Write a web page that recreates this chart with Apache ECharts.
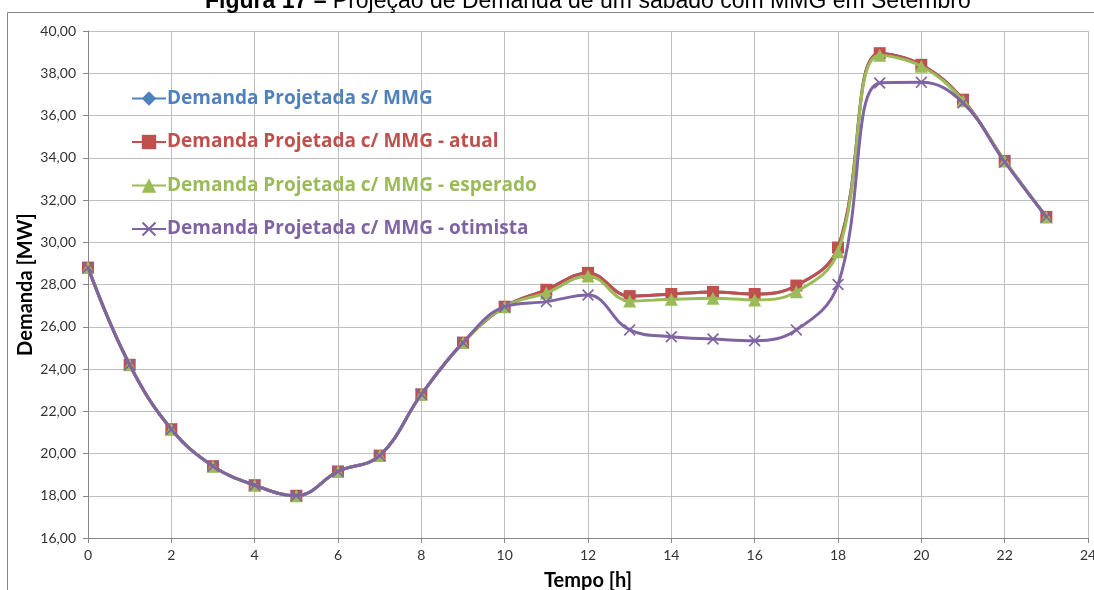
<!DOCTYPE html>
<html><head><meta charset="utf-8">
<script src="https://cdn.jsdelivr.net/npm/echarts@6/dist/echarts.min.js"></script>
<style>html,body{margin:0;padding:0;background:#fff}#c{width:1094px;height:590px}</style>
</head><body><div id="c"></div>
<script>
const hours = [0,1,2,3,4,5,6,7,8,9,10,11,12,13,14,15,16,17,18,19,20,21,22,23];
const semMMG   = [28.8,24.2,21.15,19.4,18.5,18.0,19.15,19.9,22.8,25.25,26.95,27.75,28.55,27.45,27.55,27.65,27.55,27.95,29.75,38.95,38.4,36.75,33.85,31.2];
const atual    = [28.8,24.2,21.15,19.4,18.5,18.0,19.15,19.9,22.8,25.25,26.95,27.75,28.55,27.45,27.55,27.65,27.55,27.95,29.75,38.95,38.4,36.75,33.85,31.2];
const esperado = [28.8,24.2,21.15,19.4,18.5,18.0,19.15,19.9,22.8,25.25,26.95,27.6,28.4,27.22,27.3,27.35,27.27,27.66,29.55,38.85,38.33,36.7,33.85,31.2];
const otimista = [28.8,24.2,21.15,19.4,18.5,18.0,19.15,19.9,22.8,25.25,26.95,27.19,27.5,25.85,25.53,25.42,25.34,25.85,28.0,37.54,37.57,36.6,33.8,31.2];
const seriesNames = ['Demanda Projetada s/ MMG','Demanda Projetada c/ MMG - atual','Demanda Projetada c/ MMG - esperado','Demanda Projetada c/ MMG - otimista'];
const colors = ['#4F81BD','#C0504D','#9BBB59','#8064A2'];
const yTicks = [16,18,20,22,24,26,28,30,32,34,36,38,40];
const xTicks = [0,2,4,6,8,10,12,14,16,18,20,22,24];

const pair = arr => hours.map((h,i)=>[h,arr[i]]);
const xShape = 'path://M0,1L1,0L5,4L9,0L10,1L6,5L10,9L9,10L5,6L1,10L0,9L4,5Z';
const font = 'Lato, "Open Sans", sans-serif';

const chart = echarts.init(document.getElementById('c'), null, {renderer:'canvas'});
const mk = (i, data, symbol, size) => ({
  name: seriesNames[i], type:'line', data: pair(data), smooth:0.4,
  symbol, symbolSize:size, showSymbol:true,
  lineStyle:{color:colors[i], width:3},
  itemStyle:{color:colors[i]},
  z: 2+i, animation:false
});
chart.setOption({
  animation:false,
  color: colors,
  title:{
    text:'{b|Figura 17 –} Projeção de Demanda de um sábado com MMG em Setembro',
    left:200, top:-15,
    textStyle:{fontFamily:'"Liberation Sans", Arial, sans-serif', fontSize:23, fontWeight:'normal', color:'#000',
      rich:{b:{fontFamily:'"Liberation Sans", Arial, sans-serif', fontSize:23, fontWeight:'bold', color:'#000'}}}
  },
  graphic:[{type:'rect', shape:{x:7.5,y:12.5,width:1200,height:700}, style:{fill:'none', stroke:'#868686', lineWidth:1}, z:-1}],
  grid:{left:88, right:6, top:31, bottom:52, outerBoundsMode:'none', containLabel:false},
  legend:{
    orient:'vertical', left:126, top:84, itemGap:24.5, itemWidth:34, itemHeight:18,
    data: seriesNames.map((n,i)=>({name:n, textStyle:{color:colors[i]}})),
    textStyle:{fontFamily:'"Open Sans", sans-serif', fontSize:19, fontWeight:'bold', padding:[0,0,0,-4]}
  },
  xAxis:{
    type:'value', min:0, max:24, interval:2,
    name:'Tempo [h]', nameLocation:'middle', nameGap:33, nameMoveOverlap:false,
    nameTextStyle:{fontFamily:font, fontSize:20, fontWeight:'bold', color:'#000'},
    axisLine:{lineStyle:{color:'#868686'}},
    axisTick:{show:true, length:5, lineStyle:{color:'#868686'}},
    axisLabel:{fontFamily:font, fontSize:14, color:'#333', margin:10,
      formatter: v => xTicks.includes(v) ? String(v) : ''},
    splitLine:{show:true, lineStyle:{color:'#BFBFBF'}}
  },
  yAxis:{
    type:'value', min:16, max:40, interval:2,
    name:'Demanda [MW]', nameLocation:'middle', nameGap:52, nameMoveOverlap:false,
    nameTextStyle:{fontFamily:font, fontSize:20, fontWeight:'bold', color:'#000'},
    axisLine:{show:true, lineStyle:{color:'#868686'}},
    axisTick:{show:true, length:5, lineStyle:{color:'#868686'}},
    axisLabel:{fontFamily:font, fontSize:14, color:'#333', margin:12,
      formatter: v => yTicks.includes(v) ? v.toFixed(2).replace('.',',') : ''},
    splitLine:{show:true, lineStyle:{color:'#BFBFBF'}}
  },
  series:[
    mk(0, semMMG, 'diamond', 9),
    mk(1, atual, 'rect', 12),
    mk(2, esperado, 'triangle', 13),
    mk(3, otimista, xShape, 12)
  ]
});
</script></body></html>
